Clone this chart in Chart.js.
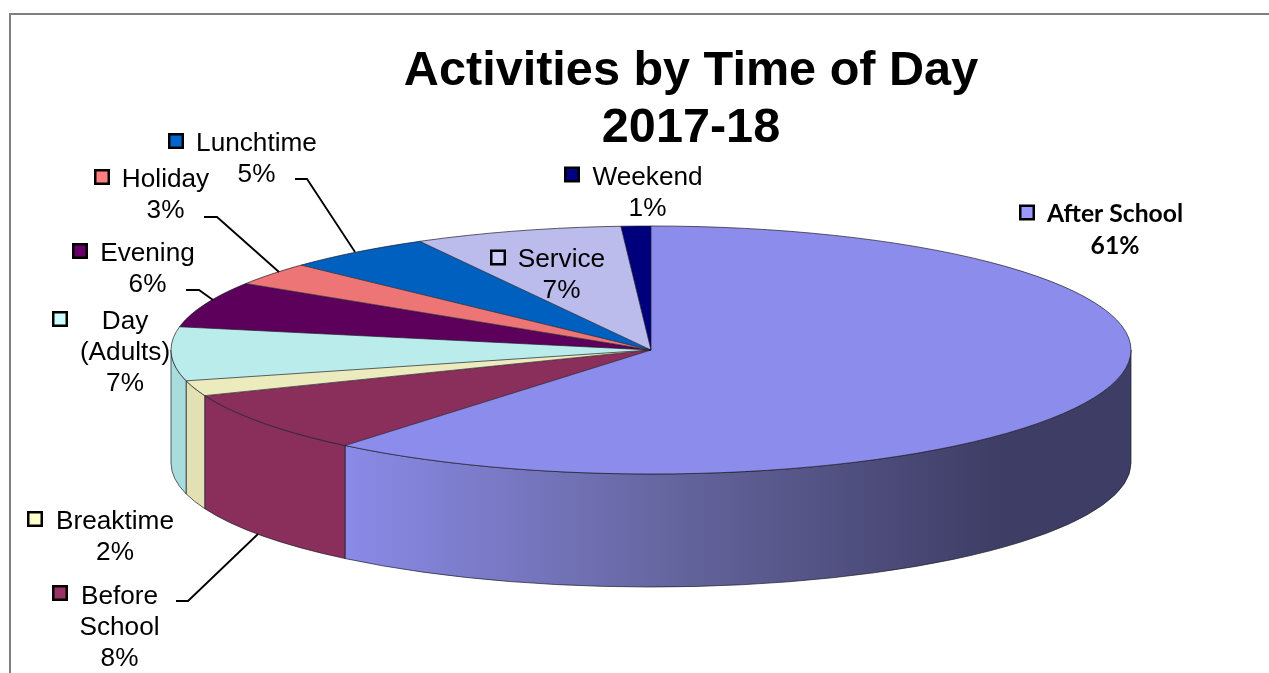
<!DOCTYPE html>
<html>
<head>
<meta charset="utf-8">
<title>Activities by Time of Day</title>
<script src="https://cdn.jsdelivr.net/npm/chart.js@4"></script>
<style>
  html, body { margin: 0; padding: 0; background: #fff; overflow: hidden; }
  canvas { display: block; }
</style>
</head>
<body>
<canvas id="pieChart" width="1269" height="673"></canvas>
<script>
// chart data
const titleLines = ['Activities by Time of Day', '2017-18'];
const categories = ['After School', 'Before School', 'Breaktime', 'Day (Adults)', 'Evening', 'Holiday', 'Lunchtime', 'Service', 'Weekend'];
const percentages = [61, 8, 2, 7, 6, 3, 5, 7, 1];

// slice colours
const topColours = ['#8c8cec', '#8a2f5b', '#ebebbd', '#bbecec', '#5c005c', '#ed7575', '#0060bf', '#bbbbec', '#00007c'];
const sideColours = ['#8c8cec', '#8a2f5b', '#e3e1b3', '#a9dcdc', '#5c005c', '#ed7575', '#0060bf', '#bbbbec', '#00007c'];
const keyColours = ['#9999ff', '#993366', '#ffffcc', '#ccffff', '#660066', '#ff8080', '#0066cc', '#ccccff', '#000080'];

// fake 3d pie: the flat pie gets squashed into this ellipse, wall hangs below it
const pie = { cx: 651, cy: 350, rx: 480, ry: 124, depth: 113 };

// where the data labels sit: x, first line y, key x/y, wrapped text
const labelSpots = [
  { x: 1115, y: 214, keyX: 1027, keyY: 212.5, lines: ['After School'], bold: true },
  { x: 119.5, y: 597, keyX: 60, keyY: 593, lines: ['Before', 'School'] },
  { x: 115, y: 522, keyX: 35, keyY: 519, lines: ['Breaktime'] },
  { x: 125, y: 322, keyX: 60, keyY: 319, lines: ['Day', '(Adults)'] },
  { x: 147.5, y: 254, keyX: 80, keyY: 251, lines: ['Evening'] },
  { x: 165.5, y: 180, keyX: 102, keyY: 177, lines: ['Holiday'] },
  { x: 256.5, y: 144, keyX: 176, keyY: 141, lines: ['Lunchtime'] },
  { x: 561.5, y: 260, keyX: 498, keyY: 257.5, lines: ['Service'] },
  { x: 647.5, y: 178, keyX: 572, keyY: 174.5, lines: ['Weekend'] }
];

// leader lines from label to slice
const leaders = [
  [[295, 179], [307, 179], [355, 252]],
  [[204, 217], [217, 217], [279, 272]],
  [[186, 290], [199, 290], [213, 300]],
  [[176, 601], [188, 601], [258, 534]]
];

function drawWalls(ctx, arcs) {
  arcs.forEach((arc, i) => {
    // only the front half of the rim is visible
    const from = Math.max(arc.startAngle, 0);
    const to = Math.min(arc.endAngle, Math.PI);
    if (to <= from) return;

    ctx.beginPath();
    ctx.ellipse(pie.cx, pie.cy, pie.rx, pie.ry, 0, from, to);
    ctx.ellipse(pie.cx, pie.cy + pie.depth, pie.rx, pie.ry, 0, to, from, true);
    ctx.closePath();

    if (i === 0) {
      // biggest slice fades to dark along its wall
      const shade = ctx.createLinearGradient(340, 0, 1000, 0);
      shade.addColorStop(0, '#8b8be9');
      shade.addColorStop(0.5, '#65659f');
      shade.addColorStop(1, '#3e3d65');
      ctx.fillStyle = shade;
    } else {
      ctx.fillStyle = sideColours[i];
    }
    ctx.fill();
    ctx.lineWidth = 1;
    ctx.strokeStyle = 'rgba(30, 30, 40, 0.7)';
    ctx.stroke();
  });
}

function drawTopOutline(ctx, arcs) {
  ctx.lineWidth = 1;
  ctx.strokeStyle = 'rgba(30, 30, 40, 0.7)';
  arcs.forEach(arc => {
    ctx.beginPath();
    ctx.moveTo(pie.cx, pie.cy);
    ctx.lineTo(pie.cx + pie.rx * Math.cos(arc.startAngle), pie.cy + pie.ry * Math.sin(arc.startAngle));
    ctx.stroke();
  });
  ctx.beginPath();
  ctx.ellipse(pie.cx, pie.cy, pie.rx, pie.ry, 0, 0, Math.PI * 2);
  ctx.stroke();
}

function drawLabels(ctx) {
  ctx.strokeStyle = '#000';
  ctx.lineWidth = 1.8;
  leaders.forEach(points => {
    ctx.beginPath();
    points.forEach(([x, y], i) => (i ? ctx.lineTo(x, y) : ctx.moveTo(x, y)));
    ctx.stroke();
  });

  ctx.textAlign = 'center';
  ctx.textBaseline = 'middle';
  labelSpots.forEach((spot, i) => {
    ctx.fillStyle = keyColours[i];
    ctx.fillRect(spot.keyX - 6.75, spot.keyY - 6.75, 13.5, 13.5);
    ctx.strokeStyle = '#000';
    ctx.lineWidth = 2.5;
    ctx.strokeRect(spot.keyX - 6.75, spot.keyY - 6.75, 13.5, 13.5);

    ctx.fillStyle = '#000';
    ctx.font = spot.bold ? 'bold 24.7px Lato' : '26.2px "Liberation Sans"';
    const rowHeight = spot.bold ? 32 : 31;
    [...spot.lines, percentages[i] + '%'].forEach((text, row) => {
      ctx.fillText(text, spot.x, spot.y + row * rowHeight);
    });
  });
}

const flatPie3d = {
  id: 'flatPie3d',
  beforeDraw(chart) {
    // chart frame, runs off the right and bottom edges
    const ctx = chart.ctx;
    ctx.save();
    ctx.strokeStyle = '#808080';
    ctx.lineWidth = 2;
    ctx.beginPath();
    ctx.moveTo(10, 673);
    ctx.lineTo(10, 14);
    ctx.lineTo(1269, 14);
    ctx.stroke();
    ctx.restore();
  },
  beforeDatasetsDraw(chart) {
    const ctx = chart.ctx;
    const arcs = chart.getDatasetMeta(0).data;
    drawWalls(ctx, arcs);
    // squash the library's arcs onto the ellipse
    ctx.save();
    ctx.translate(pie.cx, pie.cy);
    ctx.scale(1, pie.ry / pie.rx);
    ctx.translate(-arcs[0].x, -arcs[0].y);
  },
  afterDatasetsDraw(chart) {
    const ctx = chart.ctx;
    ctx.restore();
    ctx.save();
    drawTopOutline(ctx, chart.getDatasetMeta(0).data);
    drawLabels(ctx);
    ctx.restore();
  }
};

new Chart(document.getElementById('pieChart'), {
  type: 'pie',
  data: {
    labels: categories,
    datasets: [{
      data: percentages,
      backgroundColor: topColours,
      borderWidth: 0,
      clip: false
    }]
  },
  options: {
    responsive: false,
    animation: false,
    events: [],
    radius: pie.rx,
    // title is centred a bit right of the pie, so pad the left side
    layout: { padding: { left: 113 } },
    plugins: {
      legend: { display: false },
      tooltip: { enabled: false },
      title: {
        display: true,
        text: titleLines,
        color: '#000',
        font: { family: '"Liberation Sans"', size: 48.6, weight: 'bold', lineHeight: 1.18 },
        padding: { top: 43, bottom: 0 }
      }
    }
  },
  plugins: [flatPie3d]
});
</script>
</body>
</html>
